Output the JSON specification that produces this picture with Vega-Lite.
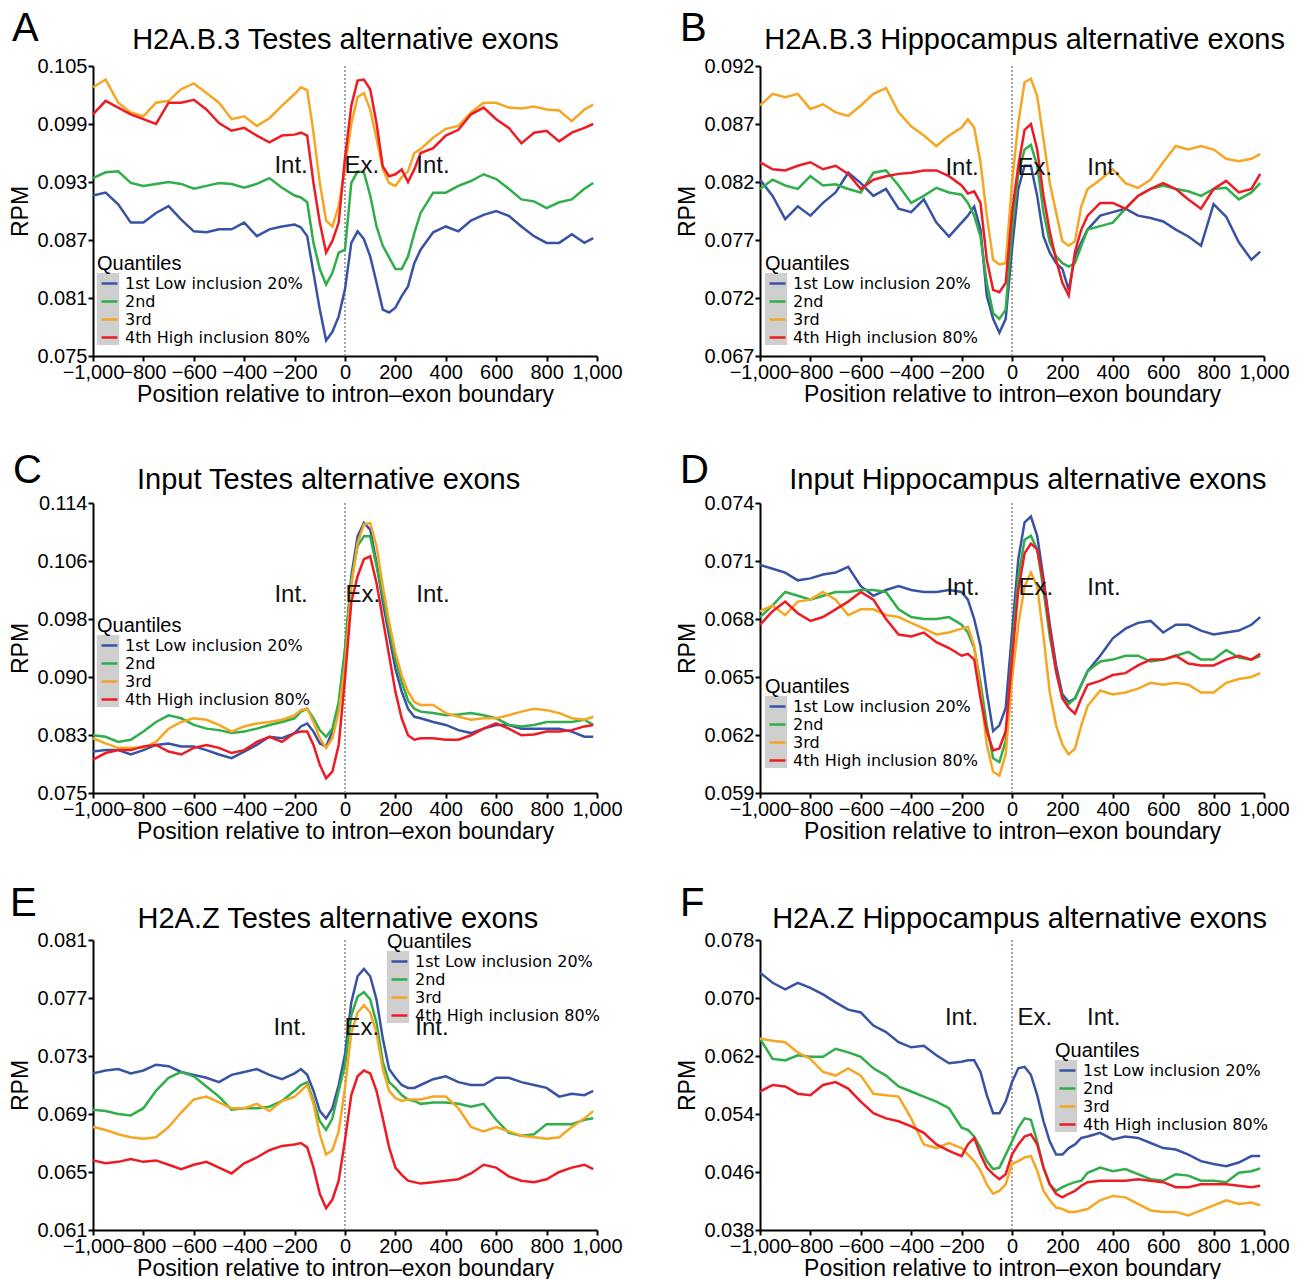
{
"$schema":"https://vega.github.io/schema/vega-lite/v6.json",
"padding":{"left":9,"top":8,"right":2,"bottom":0},
"config":{"font":"Liberation Sans","view":{"stroke":null},
"axis":{"domainColor":"#000","domainWidth":2,"tickColor":"#000","tickWidth":2,"tickSize":5,"labelColor":"#000","labelFontSize":20,"titleFontSize":23,"titleFontWeight":"normal","titleColor":"#000","grid":false,"labelPadding":1,"labelOverlap":false,"labelFlush":false},
"axisY":{"titlePadding":4},"axisX":{"titlePadding":1},
"legend":{"titleFontSize":20,"titleFontWeight":"normal","titleColor":"#000","labelFont":"DejaVu Sans","labelFontSize":16,"labelColor":"#000","labelLimit":400,"symbolType":"stroke","symbolStrokeWidth":2.5,"symbolSize":256,"symbolOffset":3,"rowPadding":0,"titlePadding":0,"labelOffset":6,"padding":0,"offset":0}},
"datasets":{
"G":[{"b":"a","x":-5000,"v":0},{"b":"b","x":-5000,"v":0},{"b":"c","x":-5000,"v":0},{"b":"d","x":-5000,"v":0}],
"A":[
{"x":-1000,"q":"1","v":0.0916},{"x":-950,"q":"1","v":0.0919},{"x":-900,"q":"1","v":0.0907},{"x":-850,"q":"1","v":0.0888},{"x":-800,"q":"1","v":0.0888},{"x":-750,"q":"1","v":0.0898},{"x":-700,"q":"1","v":0.0905},{"x":-650,"q":"1","v":0.0891},{"x":-600,"q":"1","v":0.0879},{"x":-550,"q":"1","v":0.0878},{"x":-500,"q":"1","v":0.0881},{"x":-450,"q":"1","v":0.0881},{"x":-400,"q":"1","v":0.0888},{"x":-350,"q":"1","v":0.0874},{"x":-300,"q":"1","v":0.0881},{"x":-250,"q":"1","v":0.0884},{"x":-200,"q":"1","v":0.0886},{"x":-175,"q":"1","v":0.0883},{"x":-150,"q":"1","v":0.0874},{"x":-125,"q":"1","v":0.0836},{"x":-100,"q":"1","v":0.0798},{"x":-75,"q":"1","v":0.0766},{"x":-50,"q":"1","v":0.0775},{"x":-25,"q":"1","v":0.0791},{"x":0,"q":"1","v":0.0819},{"x":25,"q":"1","v":0.0867},{"x":50,"q":"1","v":0.0879},{"x":75,"q":"1","v":0.0871},{"x":100,"q":"1","v":0.0853},{"x":125,"q":"1","v":0.0826},{"x":150,"q":"1","v":0.0798},{"x":175,"q":"1","v":0.0795},{"x":200,"q":"1","v":0.0800},{"x":225,"q":"1","v":0.0812},{"x":250,"q":"1","v":0.0822},{"x":275,"q":"1","v":0.0846},{"x":300,"q":"1","v":0.0860},{"x":350,"q":"1","v":0.0878},{"x":400,"q":"1","v":0.0884},{"x":450,"q":"1","v":0.0879},{"x":500,"q":"1","v":0.0890},{"x":550,"q":"1","v":0.0896},{"x":600,"q":"1","v":0.0900},{"x":650,"q":"1","v":0.0895},{"x":700,"q":"1","v":0.0884},{"x":750,"q":"1","v":0.0874},{"x":800,"q":"1","v":0.0867},{"x":850,"q":"1","v":0.0867},{"x":900,"q":"1","v":0.0876},{"x":950,"q":"1","v":0.0867},{"x":985,"q":"1","v":0.0872},
{"x":-1000,"q":"2","v":0.0934},{"x":-950,"q":"2","v":0.0940},{"x":-900,"q":"2","v":0.0941},{"x":-850,"q":"2","v":0.0929},{"x":-800,"q":"2","v":0.0926},{"x":-750,"q":"2","v":0.0928},{"x":-700,"q":"2","v":0.0930},{"x":-650,"q":"2","v":0.0928},{"x":-600,"q":"2","v":0.0923},{"x":-550,"q":"2","v":0.0926},{"x":-500,"q":"2","v":0.0929},{"x":-450,"q":"2","v":0.0928},{"x":-400,"q":"2","v":0.0924},{"x":-350,"q":"2","v":0.0928},{"x":-300,"q":"2","v":0.0934},{"x":-250,"q":"2","v":0.0924},{"x":-200,"q":"2","v":0.0916},{"x":-175,"q":"2","v":0.0914},{"x":-150,"q":"2","v":0.0909},{"x":-125,"q":"2","v":0.0867},{"x":-100,"q":"2","v":0.0840},{"x":-75,"q":"2","v":0.0824},{"x":-50,"q":"2","v":0.0836},{"x":-25,"q":"2","v":0.0857},{"x":0,"q":"2","v":0.0860},{"x":25,"q":"2","v":0.0929},{"x":50,"q":"2","v":0.0941},{"x":75,"q":"2","v":0.0940},{"x":100,"q":"2","v":0.0916},{"x":125,"q":"2","v":0.0884},{"x":150,"q":"2","v":0.0864},{"x":175,"q":"2","v":0.0852},{"x":200,"q":"2","v":0.0840},{"x":225,"q":"2","v":0.0840},{"x":250,"q":"2","v":0.0853},{"x":275,"q":"2","v":0.0877},{"x":300,"q":"2","v":0.0898},{"x":350,"q":"2","v":0.0919},{"x":400,"q":"2","v":0.0919},{"x":450,"q":"2","v":0.0926},{"x":500,"q":"2","v":0.0931},{"x":550,"q":"2","v":0.0938},{"x":600,"q":"2","v":0.0933},{"x":650,"q":"2","v":0.0923},{"x":700,"q":"2","v":0.0912},{"x":750,"q":"2","v":0.0910},{"x":800,"q":"2","v":0.0903},{"x":850,"q":"2","v":0.0909},{"x":900,"q":"2","v":0.0912},{"x":950,"q":"2","v":0.0923},{"x":985,"q":"2","v":0.0929},
{"x":-1000,"q":"3","v":0.1028},{"x":-950,"q":"3","v":0.1036},{"x":-900,"q":"3","v":0.1012},{"x":-850,"q":"3","v":0.1002},{"x":-800,"q":"3","v":0.0998},{"x":-750,"q":"3","v":0.1012},{"x":-700,"q":"3","v":0.1014},{"x":-650,"q":"3","v":0.1026},{"x":-600,"q":"3","v":0.1032},{"x":-550,"q":"3","v":0.1022},{"x":-500,"q":"3","v":0.1012},{"x":-450,"q":"3","v":0.0995},{"x":-400,"q":"3","v":0.0998},{"x":-350,"q":"3","v":0.0988},{"x":-300,"q":"3","v":0.0996},{"x":-250,"q":"3","v":0.1009},{"x":-200,"q":"3","v":0.1021},{"x":-175,"q":"3","v":0.1028},{"x":-150,"q":"3","v":0.1025},{"x":-125,"q":"3","v":0.0981},{"x":-100,"q":"3","v":0.0929},{"x":-75,"q":"3","v":0.0890},{"x":-50,"q":"3","v":0.0884},{"x":-25,"q":"3","v":0.0905},{"x":0,"q":"3","v":0.0945},{"x":25,"q":"3","v":0.0990},{"x":50,"q":"3","v":0.1018},{"x":75,"q":"3","v":0.1022},{"x":100,"q":"3","v":0.1005},{"x":125,"q":"3","v":0.0975},{"x":150,"q":"3","v":0.0943},{"x":175,"q":"3","v":0.0929},{"x":200,"q":"3","v":0.0926},{"x":225,"q":"3","v":0.0935},{"x":250,"q":"3","v":0.0941},{"x":275,"q":"3","v":0.0960},{"x":300,"q":"3","v":0.0964},{"x":350,"q":"3","v":0.0976},{"x":400,"q":"3","v":0.0985},{"x":450,"q":"3","v":0.0988},{"x":500,"q":"3","v":0.1002},{"x":550,"q":"3","v":0.1012},{"x":600,"q":"3","v":0.1012},{"x":650,"q":"3","v":0.1007},{"x":700,"q":"3","v":0.1006},{"x":750,"q":"3","v":0.1008},{"x":800,"q":"3","v":0.1005},{"x":850,"q":"3","v":0.1004},{"x":900,"q":"3","v":0.0993},{"x":950,"q":"3","v":0.1005},{"x":985,"q":"3","v":0.1010},
{"x":-1000,"q":"4","v":0.1000},{"x":-950,"q":"4","v":0.1014},{"x":-900,"q":"4","v":0.1007},{"x":-850,"q":"4","v":0.1000},{"x":-800,"q":"4","v":0.0995},{"x":-750,"q":"4","v":0.0990},{"x":-700,"q":"4","v":0.1012},{"x":-650,"q":"4","v":0.1012},{"x":-600,"q":"4","v":0.1015},{"x":-550,"q":"4","v":0.1005},{"x":-500,"q":"4","v":0.0991},{"x":-450,"q":"4","v":0.0983},{"x":-400,"q":"4","v":0.0986},{"x":-350,"q":"4","v":0.0978},{"x":-300,"q":"4","v":0.0971},{"x":-250,"q":"4","v":0.0978},{"x":-200,"q":"4","v":0.0979},{"x":-175,"q":"4","v":0.0981},{"x":-150,"q":"4","v":0.0978},{"x":-125,"q":"4","v":0.0929},{"x":-100,"q":"4","v":0.0888},{"x":-75,"q":"4","v":0.0857},{"x":-50,"q":"4","v":0.0869},{"x":-25,"q":"4","v":0.0888},{"x":0,"q":"4","v":0.0955},{"x":25,"q":"4","v":0.1009},{"x":50,"q":"4","v":0.1035},{"x":75,"q":"4","v":0.1036},{"x":100,"q":"4","v":0.1026},{"x":125,"q":"4","v":0.0991},{"x":150,"q":"4","v":0.0946},{"x":175,"q":"4","v":0.0936},{"x":200,"q":"4","v":0.0938},{"x":225,"q":"4","v":0.0943},{"x":250,"q":"4","v":0.0930},{"x":275,"q":"4","v":0.0943},{"x":300,"q":"4","v":0.0960},{"x":350,"q":"4","v":0.0965},{"x":400,"q":"4","v":0.0978},{"x":450,"q":"4","v":0.0984},{"x":500,"q":"4","v":0.1000},{"x":550,"q":"4","v":0.1007},{"x":600,"q":"4","v":0.0995},{"x":650,"q":"4","v":0.0986},{"x":700,"q":"4","v":0.0970},{"x":750,"q":"4","v":0.0981},{"x":800,"q":"4","v":0.0983},{"x":850,"q":"4","v":0.0972},{"x":900,"q":"4","v":0.0981},{"x":950,"q":"4","v":0.0986},{"x":985,"q":"4","v":0.0990}
],
"B":[
{"x":-1000,"q":"1","v":0.0822},{"x":-950,"q":"1","v":0.0808},{"x":-900,"q":"1","v":0.0788},{"x":-850,"q":"1","v":0.0799},{"x":-800,"q":"1","v":0.0791},{"x":-750,"q":"1","v":0.0802},{"x":-700,"q":"1","v":0.0811},{"x":-650,"q":"1","v":0.0828},{"x":-600,"q":"1","v":0.0819},{"x":-550,"q":"1","v":0.0808},{"x":-500,"q":"1","v":0.0814},{"x":-450,"q":"1","v":0.0797},{"x":-400,"q":"1","v":0.0794},{"x":-350,"q":"1","v":0.0805},{"x":-300,"q":"1","v":0.0785},{"x":-250,"q":"1","v":0.0773},{"x":-200,"q":"1","v":0.0785},{"x":-175,"q":"1","v":0.0791},{"x":-150,"q":"1","v":0.0799},{"x":-125,"q":"1","v":0.0779},{"x":-100,"q":"1","v":0.0722},{"x":-75,"q":"1","v":0.0702},{"x":-50,"q":"1","v":0.0690},{"x":-25,"q":"1","v":0.0702},{"x":0,"q":"1","v":0.0762},{"x":25,"q":"1","v":0.0814},{"x":50,"q":"1","v":0.0834},{"x":75,"q":"1","v":0.0834},{"x":100,"q":"1","v":0.0808},{"x":125,"q":"1","v":0.0773},{"x":150,"q":"1","v":0.0759},{"x":175,"q":"1","v":0.0750},{"x":200,"q":"1","v":0.0745},{"x":225,"q":"1","v":0.0727},{"x":250,"q":"1","v":0.0756},{"x":275,"q":"1","v":0.0768},{"x":300,"q":"1","v":0.0779},{"x":350,"q":"1","v":0.0791},{"x":400,"q":"1","v":0.0794},{"x":450,"q":"1","v":0.0797},{"x":500,"q":"1","v":0.0791},{"x":550,"q":"1","v":0.0789},{"x":600,"q":"1","v":0.0786},{"x":650,"q":"1","v":0.0779},{"x":700,"q":"1","v":0.0773},{"x":750,"q":"1","v":0.0765},{"x":800,"q":"1","v":0.0801},{"x":850,"q":"1","v":0.0790},{"x":900,"q":"1","v":0.0768},{"x":950,"q":"1","v":0.0753},{"x":985,"q":"1","v":0.0760},
{"x":-1000,"q":"2","v":0.0814},{"x":-950,"q":"2","v":0.0822},{"x":-900,"q":"2","v":0.0817},{"x":-850,"q":"2","v":0.0814},{"x":-800,"q":"2","v":0.0825},{"x":-750,"q":"2","v":0.0817},{"x":-700,"q":"2","v":0.0818},{"x":-650,"q":"2","v":0.0814},{"x":-600,"q":"2","v":0.0811},{"x":-550,"q":"2","v":0.0828},{"x":-500,"q":"2","v":0.0830},{"x":-450,"q":"2","v":0.0817},{"x":-400,"q":"2","v":0.0802},{"x":-350,"q":"2","v":0.0808},{"x":-300,"q":"2","v":0.0815},{"x":-250,"q":"2","v":0.0811},{"x":-200,"q":"2","v":0.0809},{"x":-175,"q":"2","v":0.0802},{"x":-150,"q":"2","v":0.0791},{"x":-125,"q":"2","v":0.0773},{"x":-100,"q":"2","v":0.0733},{"x":-75,"q":"2","v":0.0707},{"x":-50,"q":"2","v":0.0702},{"x":-25,"q":"2","v":0.0710},{"x":0,"q":"2","v":0.0779},{"x":25,"q":"2","v":0.0828},{"x":50,"q":"2","v":0.0848},{"x":75,"q":"2","v":0.0852},{"x":100,"q":"2","v":0.0834},{"x":125,"q":"2","v":0.0794},{"x":150,"q":"2","v":0.0768},{"x":175,"q":"2","v":0.0756},{"x":200,"q":"2","v":0.0750},{"x":225,"q":"2","v":0.0747},{"x":250,"q":"2","v":0.0750},{"x":275,"q":"2","v":0.0765},{"x":300,"q":"2","v":0.0779},{"x":350,"q":"2","v":0.0782},{"x":400,"q":"2","v":0.0785},{"x":450,"q":"2","v":0.0797},{"x":500,"q":"2","v":0.0808},{"x":550,"q":"2","v":0.0814},{"x":600,"q":"2","v":0.0817},{"x":650,"q":"2","v":0.0814},{"x":700,"q":"2","v":0.0812},{"x":750,"q":"2","v":0.0808},{"x":800,"q":"2","v":0.0814},{"x":850,"q":"2","v":0.0815},{"x":900,"q":"2","v":0.0805},{"x":950,"q":"2","v":0.0811},{"x":985,"q":"2","v":0.0819},
{"x":-1000,"q":"3","v":0.0886},{"x":-950,"q":"3","v":0.0896},{"x":-900,"q":"3","v":0.0893},{"x":-850,"q":"3","v":0.0896},{"x":-800,"q":"3","v":0.0883},{"x":-750,"q":"3","v":0.0887},{"x":-700,"q":"3","v":0.0880},{"x":-650,"q":"3","v":0.0877},{"x":-600,"q":"3","v":0.0886},{"x":-550,"q":"3","v":0.0896},{"x":-500,"q":"3","v":0.0901},{"x":-450,"q":"3","v":0.0880},{"x":-400,"q":"3","v":0.0868},{"x":-350,"q":"3","v":0.0860},{"x":-300,"q":"3","v":0.0851},{"x":-250,"q":"3","v":0.0860},{"x":-200,"q":"3","v":0.0867},{"x":-175,"q":"3","v":0.0874},{"x":-150,"q":"3","v":0.0867},{"x":-125,"q":"3","v":0.0837},{"x":-100,"q":"3","v":0.0791},{"x":-75,"q":"3","v":0.0753},{"x":-50,"q":"3","v":0.0749},{"x":-25,"q":"3","v":0.0750},{"x":0,"q":"3","v":0.0819},{"x":25,"q":"3","v":0.0871},{"x":50,"q":"3","v":0.0906},{"x":75,"q":"3","v":0.0909},{"x":100,"q":"3","v":0.0894},{"x":125,"q":"3","v":0.0857},{"x":150,"q":"3","v":0.0819},{"x":175,"q":"3","v":0.0794},{"x":200,"q":"3","v":0.0769},{"x":225,"q":"3","v":0.0765},{"x":250,"q":"3","v":0.0769},{"x":275,"q":"3","v":0.0799},{"x":300,"q":"3","v":0.0814},{"x":350,"q":"3","v":0.0822},{"x":400,"q":"3","v":0.0831},{"x":450,"q":"3","v":0.0819},{"x":500,"q":"3","v":0.0815},{"x":550,"q":"3","v":0.0822},{"x":600,"q":"3","v":0.0837},{"x":650,"q":"3","v":0.0851},{"x":700,"q":"3","v":0.0848},{"x":750,"q":"3","v":0.0851},{"x":800,"q":"3","v":0.0848},{"x":850,"q":"3","v":0.0840},{"x":900,"q":"3","v":0.0838},{"x":950,"q":"3","v":0.0840},{"x":985,"q":"3","v":0.0844},
{"x":-1000,"q":"4","v":0.0837},{"x":-950,"q":"4","v":0.0831},{"x":-900,"q":"4","v":0.0830},{"x":-850,"q":"4","v":0.0834},{"x":-800,"q":"4","v":0.0837},{"x":-750,"q":"4","v":0.0831},{"x":-700,"q":"4","v":0.0834},{"x":-650,"q":"4","v":0.0827},{"x":-600,"q":"4","v":0.0814},{"x":-550,"q":"4","v":0.0822},{"x":-500,"q":"4","v":0.0825},{"x":-450,"q":"4","v":0.0827},{"x":-400,"q":"4","v":0.0828},{"x":-350,"q":"4","v":0.0830},{"x":-300,"q":"4","v":0.0830},{"x":-250,"q":"4","v":0.0825},{"x":-200,"q":"4","v":0.0817},{"x":-175,"q":"4","v":0.0810},{"x":-150,"q":"4","v":0.0812},{"x":-125,"q":"4","v":0.0802},{"x":-100,"q":"4","v":0.0753},{"x":-75,"q":"4","v":0.0727},{"x":-50,"q":"4","v":0.0725},{"x":-25,"q":"4","v":0.0733},{"x":0,"q":"4","v":0.0794},{"x":25,"q":"4","v":0.0834},{"x":50,"q":"4","v":0.0865},{"x":75,"q":"4","v":0.0870},{"x":100,"q":"4","v":0.0848},{"x":125,"q":"4","v":0.0808},{"x":150,"q":"4","v":0.0777},{"x":175,"q":"4","v":0.0753},{"x":200,"q":"4","v":0.0733},{"x":225,"q":"4","v":0.0722},{"x":250,"q":"4","v":0.0760},{"x":275,"q":"4","v":0.0779},{"x":300,"q":"4","v":0.0791},{"x":350,"q":"4","v":0.0802},{"x":400,"q":"4","v":0.0802},{"x":450,"q":"4","v":0.0797},{"x":500,"q":"4","v":0.0808},{"x":550,"q":"4","v":0.0814},{"x":600,"q":"4","v":0.0819},{"x":650,"q":"4","v":0.0814},{"x":700,"q":"4","v":0.0805},{"x":750,"q":"4","v":0.0797},{"x":800,"q":"4","v":0.0814},{"x":850,"q":"4","v":0.0821},{"x":900,"q":"4","v":0.0811},{"x":950,"q":"4","v":0.0814},{"x":985,"q":"4","v":0.0827}
],
"C":[
{"x":-1000,"q":"1","v":0.0804},{"x":-950,"q":"1","v":0.0806},{"x":-900,"q":"1","v":0.0806},{"x":-850,"q":"1","v":0.0800},{"x":-800,"q":"1","v":0.0806},{"x":-750,"q":"1","v":0.0813},{"x":-700,"q":"1","v":0.0815},{"x":-650,"q":"1","v":0.0811},{"x":-600,"q":"1","v":0.0811},{"x":-550,"q":"1","v":0.0806},{"x":-500,"q":"1","v":0.0800},{"x":-450,"q":"1","v":0.0795},{"x":-400,"q":"1","v":0.0804},{"x":-350,"q":"1","v":0.0813},{"x":-300,"q":"1","v":0.0824},{"x":-250,"q":"1","v":0.0822},{"x":-200,"q":"1","v":0.0829},{"x":-175,"q":"1","v":0.0838},{"x":-150,"q":"1","v":0.0842},{"x":-125,"q":"1","v":0.0831},{"x":-100,"q":"1","v":0.0815},{"x":-75,"q":"1","v":0.0811},{"x":-50,"q":"1","v":0.0831},{"x":-25,"q":"1","v":0.0867},{"x":0,"q":"1","v":0.0938},{"x":25,"q":"1","v":0.1041},{"x":50,"q":"1","v":0.1095},{"x":75,"q":"1","v":0.1113},{"x":100,"q":"1","v":0.1104},{"x":125,"q":"1","v":0.1059},{"x":150,"q":"1","v":0.1006},{"x":175,"q":"1","v":0.0961},{"x":200,"q":"1","v":0.0916},{"x":225,"q":"1","v":0.0885},{"x":250,"q":"1","v":0.0862},{"x":275,"q":"1","v":0.0851},{"x":300,"q":"1","v":0.0849},{"x":350,"q":"1","v":0.0844},{"x":400,"q":"1","v":0.0840},{"x":450,"q":"1","v":0.0833},{"x":500,"q":"1","v":0.0829},{"x":550,"q":"1","v":0.0835},{"x":600,"q":"1","v":0.0840},{"x":650,"q":"1","v":0.0840},{"x":700,"q":"1","v":0.0835},{"x":750,"q":"1","v":0.0835},{"x":800,"q":"1","v":0.0835},{"x":850,"q":"1","v":0.0835},{"x":900,"q":"1","v":0.0831},{"x":950,"q":"1","v":0.0824},{"x":985,"q":"1","v":0.0824},
{"x":-1000,"q":"2","v":0.0826},{"x":-950,"q":"2","v":0.0824},{"x":-900,"q":"2","v":0.0817},{"x":-850,"q":"2","v":0.0820},{"x":-800,"q":"2","v":0.0831},{"x":-750,"q":"2","v":0.0844},{"x":-700,"q":"2","v":0.0853},{"x":-650,"q":"2","v":0.0849},{"x":-600,"q":"2","v":0.0840},{"x":-550,"q":"2","v":0.0835},{"x":-500,"q":"2","v":0.0833},{"x":-450,"q":"2","v":0.0829},{"x":-400,"q":"2","v":0.0831},{"x":-350,"q":"2","v":0.0835},{"x":-300,"q":"2","v":0.0840},{"x":-250,"q":"2","v":0.0844},{"x":-200,"q":"2","v":0.0849},{"x":-175,"q":"2","v":0.0858},{"x":-150,"q":"2","v":0.0862},{"x":-125,"q":"2","v":0.0849},{"x":-100,"q":"2","v":0.0833},{"x":-75,"q":"2","v":0.0824},{"x":-50,"q":"2","v":0.0835},{"x":-25,"q":"2","v":0.0871},{"x":0,"q":"2","v":0.0943},{"x":25,"q":"2","v":0.1037},{"x":50,"q":"2","v":0.1082},{"x":75,"q":"2","v":0.1095},{"x":100,"q":"2","v":0.1095},{"x":125,"q":"2","v":0.1055},{"x":150,"q":"2","v":0.1015},{"x":175,"q":"2","v":0.0970},{"x":200,"q":"2","v":0.0929},{"x":225,"q":"2","v":0.0898},{"x":250,"q":"2","v":0.0873},{"x":275,"q":"2","v":0.0862},{"x":300,"q":"2","v":0.0858},{"x":350,"q":"2","v":0.0856},{"x":400,"q":"2","v":0.0853},{"x":450,"q":"2","v":0.0854},{"x":500,"q":"2","v":0.0856},{"x":550,"q":"2","v":0.0853},{"x":600,"q":"2","v":0.0849},{"x":650,"q":"2","v":0.0840},{"x":700,"q":"2","v":0.0838},{"x":750,"q":"2","v":0.0840},{"x":800,"q":"2","v":0.0844},{"x":850,"q":"2","v":0.0844},{"x":900,"q":"2","v":0.0844},{"x":950,"q":"2","v":0.0847},{"x":985,"q":"2","v":0.0840},
{"x":-1000,"q":"3","v":0.0822},{"x":-950,"q":"3","v":0.0815},{"x":-900,"q":"3","v":0.0809},{"x":-850,"q":"3","v":0.0809},{"x":-800,"q":"3","v":0.0809},{"x":-750,"q":"3","v":0.0817},{"x":-700,"q":"3","v":0.0835},{"x":-650,"q":"3","v":0.0844},{"x":-600,"q":"3","v":0.0849},{"x":-550,"q":"3","v":0.0847},{"x":-500,"q":"3","v":0.0840},{"x":-450,"q":"3","v":0.0831},{"x":-400,"q":"3","v":0.0838},{"x":-350,"q":"3","v":0.0842},{"x":-300,"q":"3","v":0.0844},{"x":-250,"q":"3","v":0.0847},{"x":-200,"q":"3","v":0.0853},{"x":-175,"q":"3","v":0.0860},{"x":-150,"q":"3","v":0.0862},{"x":-125,"q":"3","v":0.0844},{"x":-100,"q":"3","v":0.0822},{"x":-75,"q":"3","v":0.0809},{"x":-50,"q":"3","v":0.0822},{"x":-25,"q":"3","v":0.0858},{"x":0,"q":"3","v":0.0920},{"x":25,"q":"3","v":0.1028},{"x":50,"q":"3","v":0.1086},{"x":75,"q":"3","v":0.1111},{"x":100,"q":"3","v":0.1113},{"x":125,"q":"3","v":0.1082},{"x":150,"q":"3","v":0.1028},{"x":175,"q":"3","v":0.0979},{"x":200,"q":"3","v":0.0938},{"x":225,"q":"3","v":0.0907},{"x":250,"q":"3","v":0.0885},{"x":275,"q":"3","v":0.0871},{"x":300,"q":"3","v":0.0867},{"x":350,"q":"3","v":0.0867},{"x":400,"q":"3","v":0.0856},{"x":450,"q":"3","v":0.0851},{"x":500,"q":"3","v":0.0847},{"x":550,"q":"3","v":0.0849},{"x":600,"q":"3","v":0.0849},{"x":650,"q":"3","v":0.0853},{"x":700,"q":"3","v":0.0858},{"x":750,"q":"3","v":0.0862},{"x":800,"q":"3","v":0.0860},{"x":850,"q":"3","v":0.0856},{"x":900,"q":"3","v":0.0849},{"x":950,"q":"3","v":0.0847},{"x":985,"q":"3","v":0.0851},
{"x":-1000,"q":"4","v":0.0793},{"x":-950,"q":"4","v":0.0802},{"x":-900,"q":"4","v":0.0806},{"x":-850,"q":"4","v":0.0806},{"x":-800,"q":"4","v":0.0811},{"x":-750,"q":"4","v":0.0813},{"x":-700,"q":"4","v":0.0804},{"x":-650,"q":"4","v":0.0800},{"x":-600,"q":"4","v":0.0809},{"x":-550,"q":"4","v":0.0813},{"x":-500,"q":"4","v":0.0809},{"x":-450,"q":"4","v":0.0802},{"x":-400,"q":"4","v":0.0806},{"x":-350,"q":"4","v":0.0817},{"x":-300,"q":"4","v":0.0824},{"x":-250,"q":"4","v":0.0817},{"x":-200,"q":"4","v":0.0829},{"x":-175,"q":"4","v":0.0831},{"x":-150,"q":"4","v":0.0831},{"x":-125,"q":"4","v":0.0813},{"x":-100,"q":"4","v":0.0786},{"x":-75,"q":"4","v":0.0768},{"x":-50,"q":"4","v":0.0777},{"x":-25,"q":"4","v":0.0813},{"x":0,"q":"4","v":0.0903},{"x":25,"q":"4","v":0.1006},{"x":50,"q":"4","v":0.1041},{"x":75,"q":"4","v":0.1064},{"x":100,"q":"4","v":0.1068},{"x":125,"q":"4","v":0.1032},{"x":150,"q":"4","v":0.0983},{"x":175,"q":"4","v":0.0934},{"x":200,"q":"4","v":0.0885},{"x":225,"q":"4","v":0.0849},{"x":250,"q":"4","v":0.0826},{"x":275,"q":"4","v":0.0820},{"x":300,"q":"4","v":0.0822},{"x":350,"q":"4","v":0.0822},{"x":400,"q":"4","v":0.0820},{"x":450,"q":"4","v":0.0820},{"x":500,"q":"4","v":0.0826},{"x":550,"q":"4","v":0.0835},{"x":600,"q":"4","v":0.0842},{"x":650,"q":"4","v":0.0835},{"x":700,"q":"4","v":0.0826},{"x":750,"q":"4","v":0.0827},{"x":800,"q":"4","v":0.0831},{"x":850,"q":"4","v":0.0831},{"x":900,"q":"4","v":0.0833},{"x":950,"q":"4","v":0.0838},{"x":985,"q":"4","v":0.0840}
],
"D":[
{"x":-1000,"q":"1","v":0.0708},{"x":-950,"q":"1","v":0.0706},{"x":-900,"q":"1","v":0.0704},{"x":-850,"q":"1","v":0.0700},{"x":-800,"q":"1","v":0.0701},{"x":-750,"q":"1","v":0.0703},{"x":-700,"q":"1","v":0.0704},{"x":-650,"q":"1","v":0.0707},{"x":-600,"q":"1","v":0.0697},{"x":-550,"q":"1","v":0.0692},{"x":-500,"q":"1","v":0.0695},{"x":-450,"q":"1","v":0.0697},{"x":-400,"q":"1","v":0.0695},{"x":-350,"q":"1","v":0.0694},{"x":-300,"q":"1","v":0.0694},{"x":-250,"q":"1","v":0.0695},{"x":-200,"q":"1","v":0.0694},{"x":-175,"q":"1","v":0.0690},{"x":-150,"q":"1","v":0.0680},{"x":-125,"q":"1","v":0.0666},{"x":-100,"q":"1","v":0.0642},{"x":-75,"q":"1","v":0.0622},{"x":-50,"q":"1","v":0.0625},{"x":-25,"q":"1","v":0.0634},{"x":0,"q":"1","v":0.0673},{"x":25,"q":"1","v":0.0711},{"x":50,"q":"1","v":0.0730},{"x":75,"q":"1","v":0.0733},{"x":100,"q":"1","v":0.0723},{"x":125,"q":"1","v":0.0701},{"x":150,"q":"1","v":0.0677},{"x":175,"q":"1","v":0.0656},{"x":200,"q":"1","v":0.0641},{"x":225,"q":"1","v":0.0637},{"x":250,"q":"1","v":0.0639},{"x":275,"q":"1","v":0.0646},{"x":300,"q":"1","v":0.0653},{"x":350,"q":"1","v":0.0661},{"x":400,"q":"1","v":0.0670},{"x":450,"q":"1","v":0.0675},{"x":500,"q":"1","v":0.0678},{"x":550,"q":"1","v":0.0679},{"x":600,"q":"1","v":0.0673},{"x":650,"q":"1","v":0.0677},{"x":700,"q":"1","v":0.0677},{"x":750,"q":"1","v":0.0674},{"x":800,"q":"1","v":0.0672},{"x":850,"q":"1","v":0.0673},{"x":900,"q":"1","v":0.0674},{"x":950,"q":"1","v":0.0677},{"x":985,"q":"1","v":0.0681},
{"x":-1000,"q":"2","v":0.0681},{"x":-950,"q":"2","v":0.0687},{"x":-900,"q":"2","v":0.0694},{"x":-850,"q":"2","v":0.0692},{"x":-800,"q":"2","v":0.0690},{"x":-750,"q":"2","v":0.0692},{"x":-700,"q":"2","v":0.0694},{"x":-650,"q":"2","v":0.0694},{"x":-600,"q":"2","v":0.0695},{"x":-550,"q":"2","v":0.0695},{"x":-500,"q":"2","v":0.0694},{"x":-450,"q":"2","v":0.0685},{"x":-400,"q":"2","v":0.0681},{"x":-350,"q":"2","v":0.0680},{"x":-300,"q":"2","v":0.0680},{"x":-250,"q":"2","v":0.0681},{"x":-200,"q":"2","v":0.0677},{"x":-175,"q":"2","v":0.0673},{"x":-150,"q":"2","v":0.0665},{"x":-125,"q":"2","v":0.0647},{"x":-100,"q":"2","v":0.0625},{"x":-75,"q":"2","v":0.0608},{"x":-50,"q":"2","v":0.0606},{"x":-25,"q":"2","v":0.0617},{"x":0,"q":"2","v":0.0663},{"x":25,"q":"2","v":0.0702},{"x":50,"q":"2","v":0.0721},{"x":75,"q":"2","v":0.0723},{"x":100,"q":"2","v":0.0716},{"x":125,"q":"2","v":0.0695},{"x":150,"q":"2","v":0.0671},{"x":175,"q":"2","v":0.0653},{"x":200,"q":"2","v":0.0639},{"x":225,"q":"2","v":0.0636},{"x":250,"q":"2","v":0.0639},{"x":275,"q":"2","v":0.0646},{"x":300,"q":"2","v":0.0653},{"x":350,"q":"2","v":0.0658},{"x":400,"q":"2","v":0.0659},{"x":450,"q":"2","v":0.0661},{"x":500,"q":"2","v":0.0661},{"x":550,"q":"2","v":0.0658},{"x":600,"q":"2","v":0.0659},{"x":650,"q":"2","v":0.0661},{"x":700,"q":"2","v":0.0663},{"x":750,"q":"2","v":0.0659},{"x":800,"q":"2","v":0.0659},{"x":850,"q":"2","v":0.0664},{"x":900,"q":"2","v":0.0660},{"x":950,"q":"2","v":0.0659},{"x":985,"q":"2","v":0.0661},
{"x":-1000,"q":"3","v":0.0684},{"x":-950,"q":"3","v":0.0687},{"x":-900,"q":"3","v":0.0682},{"x":-850,"q":"3","v":0.0689},{"x":-800,"q":"3","v":0.0690},{"x":-750,"q":"3","v":0.0694},{"x":-700,"q":"3","v":0.0690},{"x":-650,"q":"3","v":0.0682},{"x":-600,"q":"3","v":0.0685},{"x":-550,"q":"3","v":0.0685},{"x":-500,"q":"3","v":0.0682},{"x":-450,"q":"3","v":0.0681},{"x":-400,"q":"3","v":0.0678},{"x":-350,"q":"3","v":0.0675},{"x":-300,"q":"3","v":0.0672},{"x":-250,"q":"3","v":0.0673},{"x":-200,"q":"3","v":0.0675},{"x":-175,"q":"3","v":0.0676},{"x":-150,"q":"3","v":0.0666},{"x":-125,"q":"3","v":0.0642},{"x":-100,"q":"3","v":0.0615},{"x":-75,"q":"3","v":0.0601},{"x":-50,"q":"3","v":0.0599},{"x":-25,"q":"3","v":0.0610},{"x":0,"q":"3","v":0.0649},{"x":25,"q":"3","v":0.0677},{"x":50,"q":"3","v":0.0697},{"x":75,"q":"3","v":0.0704},{"x":100,"q":"3","v":0.0697},{"x":125,"q":"3","v":0.0671},{"x":150,"q":"3","v":0.0642},{"x":175,"q":"3","v":0.0625},{"x":200,"q":"3","v":0.0615},{"x":225,"q":"3","v":0.0610},{"x":250,"q":"3","v":0.0613},{"x":275,"q":"3","v":0.0625},{"x":300,"q":"3","v":0.0635},{"x":350,"q":"3","v":0.0643},{"x":400,"q":"3","v":0.0641},{"x":450,"q":"3","v":0.0642},{"x":500,"q":"3","v":0.0644},{"x":550,"q":"3","v":0.0647},{"x":600,"q":"3","v":0.0646},{"x":650,"q":"3","v":0.0647},{"x":700,"q":"3","v":0.0646},{"x":750,"q":"3","v":0.0642},{"x":800,"q":"3","v":0.0642},{"x":850,"q":"3","v":0.0647},{"x":900,"q":"3","v":0.0649},{"x":950,"q":"3","v":0.0650},{"x":985,"q":"3","v":0.0652},
{"x":-1000,"q":"4","v":0.0677},{"x":-950,"q":"4","v":0.0684},{"x":-900,"q":"4","v":0.0689},{"x":-850,"q":"4","v":0.0683},{"x":-800,"q":"4","v":0.0679},{"x":-750,"q":"4","v":0.0681},{"x":-700,"q":"4","v":0.0685},{"x":-650,"q":"4","v":0.0689},{"x":-600,"q":"4","v":0.0694},{"x":-550,"q":"4","v":0.0690},{"x":-500,"q":"4","v":0.0680},{"x":-450,"q":"4","v":0.0672},{"x":-400,"q":"4","v":0.0671},{"x":-350,"q":"4","v":0.0673},{"x":-300,"q":"4","v":0.0668},{"x":-250,"q":"4","v":0.0665},{"x":-200,"q":"4","v":0.0661},{"x":-175,"q":"4","v":0.0662},{"x":-150,"q":"4","v":0.0659},{"x":-125,"q":"4","v":0.0639},{"x":-100,"q":"4","v":0.0622},{"x":-75,"q":"4","v":0.0612},{"x":-50,"q":"4","v":0.0613},{"x":-25,"q":"4","v":0.0622},{"x":0,"q":"4","v":0.0659},{"x":25,"q":"4","v":0.0695},{"x":50,"q":"4","v":0.0714},{"x":75,"q":"4","v":0.0719},{"x":100,"q":"4","v":0.0716},{"x":125,"q":"4","v":0.0699},{"x":150,"q":"4","v":0.0675},{"x":175,"q":"4","v":0.0653},{"x":200,"q":"4","v":0.0639},{"x":225,"q":"4","v":0.0634},{"x":250,"q":"4","v":0.0631},{"x":275,"q":"4","v":0.0639},{"x":300,"q":"4","v":0.0646},{"x":350,"q":"4","v":0.0648},{"x":400,"q":"4","v":0.0651},{"x":450,"q":"4","v":0.0652},{"x":500,"q":"4","v":0.0656},{"x":550,"q":"4","v":0.0659},{"x":600,"q":"4","v":0.0659},{"x":650,"q":"4","v":0.0661},{"x":700,"q":"4","v":0.0657},{"x":750,"q":"4","v":0.0656},{"x":800,"q":"4","v":0.0656},{"x":850,"q":"4","v":0.0659},{"x":900,"q":"4","v":0.0661},{"x":950,"q":"4","v":0.0659},{"x":985,"q":"4","v":0.0662}
],
"E":[
{"x":-1000,"q":"1","v":0.0718},{"x":-950,"q":"1","v":0.0720},{"x":-900,"q":"1","v":0.0721},{"x":-850,"q":"1","v":0.0718},{"x":-800,"q":"1","v":0.0720},{"x":-750,"q":"1","v":0.0724},{"x":-700,"q":"1","v":0.0723},{"x":-650,"q":"1","v":0.0719},{"x":-600,"q":"1","v":0.0717},{"x":-550,"q":"1","v":0.0715},{"x":-500,"q":"1","v":0.0712},{"x":-450,"q":"1","v":0.0717},{"x":-400,"q":"1","v":0.0719},{"x":-350,"q":"1","v":0.0721},{"x":-300,"q":"1","v":0.0717},{"x":-250,"q":"1","v":0.0714},{"x":-200,"q":"1","v":0.0718},{"x":-175,"q":"1","v":0.0721},{"x":-150,"q":"1","v":0.0717},{"x":-125,"q":"1","v":0.0706},{"x":-100,"q":"1","v":0.0692},{"x":-75,"q":"1","v":0.0687},{"x":-50,"q":"1","v":0.0694},{"x":-25,"q":"1","v":0.0710},{"x":0,"q":"1","v":0.0731},{"x":25,"q":"1","v":0.0767},{"x":50,"q":"1","v":0.0785},{"x":75,"q":"1","v":0.0790},{"x":100,"q":"1","v":0.0785},{"x":125,"q":"1","v":0.0769},{"x":150,"q":"1","v":0.0742},{"x":175,"q":"1","v":0.0721},{"x":200,"q":"1","v":0.0715},{"x":225,"q":"1","v":0.0710},{"x":250,"q":"1","v":0.0708},{"x":275,"q":"1","v":0.0708},{"x":300,"q":"1","v":0.0710},{"x":350,"q":"1","v":0.0714},{"x":400,"q":"1","v":0.0716},{"x":450,"q":"1","v":0.0712},{"x":500,"q":"1","v":0.0710},{"x":550,"q":"1","v":0.0710},{"x":600,"q":"1","v":0.0715},{"x":650,"q":"1","v":0.0715},{"x":700,"q":"1","v":0.0712},{"x":750,"q":"1","v":0.0710},{"x":800,"q":"1","v":0.0708},{"x":850,"q":"1","v":0.0702},{"x":900,"q":"1","v":0.0704},{"x":950,"q":"1","v":0.0703},{"x":985,"q":"1","v":0.0706},
{"x":-1000,"q":"2","v":0.0693},{"x":-950,"q":"2","v":0.0692},{"x":-900,"q":"2","v":0.0690},{"x":-850,"q":"2","v":0.0689},{"x":-800,"q":"2","v":0.0694},{"x":-750,"q":"2","v":0.0706},{"x":-700,"q":"2","v":0.0715},{"x":-650,"q":"2","v":0.0719},{"x":-600,"q":"2","v":0.0716},{"x":-550,"q":"2","v":0.0709},{"x":-500,"q":"2","v":0.0702},{"x":-450,"q":"2","v":0.0693},{"x":-400,"q":"2","v":0.0694},{"x":-350,"q":"2","v":0.0694},{"x":-300,"q":"2","v":0.0695},{"x":-250,"q":"2","v":0.0699},{"x":-200,"q":"2","v":0.0706},{"x":-175,"q":"2","v":0.0710},{"x":-150,"q":"2","v":0.0712},{"x":-125,"q":"2","v":0.0699},{"x":-100,"q":"2","v":0.0685},{"x":-75,"q":"2","v":0.0679},{"x":-50,"q":"2","v":0.0687},{"x":-25,"q":"2","v":0.0706},{"x":0,"q":"2","v":0.0724},{"x":25,"q":"2","v":0.0758},{"x":50,"q":"2","v":0.0771},{"x":75,"q":"2","v":0.0774},{"x":100,"q":"2","v":0.0769},{"x":125,"q":"2","v":0.0753},{"x":150,"q":"2","v":0.0726},{"x":175,"q":"2","v":0.0712},{"x":200,"q":"2","v":0.0708},{"x":225,"q":"2","v":0.0703},{"x":250,"q":"2","v":0.0700},{"x":275,"q":"2","v":0.0699},{"x":300,"q":"2","v":0.0697},{"x":350,"q":"2","v":0.0698},{"x":400,"q":"2","v":0.0698},{"x":450,"q":"2","v":0.0697},{"x":500,"q":"2","v":0.0695},{"x":550,"q":"2","v":0.0697},{"x":600,"q":"2","v":0.0686},{"x":650,"q":"2","v":0.0677},{"x":700,"q":"2","v":0.0675},{"x":750,"q":"2","v":0.0676},{"x":800,"q":"2","v":0.0683},{"x":850,"q":"2","v":0.0683},{"x":900,"q":"2","v":0.0683},{"x":950,"q":"2","v":0.0686},{"x":985,"q":"2","v":0.0687},
{"x":-1000,"q":"3","v":0.0681},{"x":-950,"q":"3","v":0.0679},{"x":-900,"q":"3","v":0.0676},{"x":-850,"q":"3","v":0.0674},{"x":-800,"q":"3","v":0.0673},{"x":-750,"q":"3","v":0.0674},{"x":-700,"q":"3","v":0.0681},{"x":-650,"q":"3","v":0.0691},{"x":-600,"q":"3","v":0.0700},{"x":-550,"q":"3","v":0.0702},{"x":-500,"q":"3","v":0.0698},{"x":-450,"q":"3","v":0.0694},{"x":-400,"q":"3","v":0.0694},{"x":-350,"q":"3","v":0.0697},{"x":-300,"q":"3","v":0.0692},{"x":-250,"q":"3","v":0.0699},{"x":-200,"q":"3","v":0.0702},{"x":-175,"q":"3","v":0.0706},{"x":-150,"q":"3","v":0.0710},{"x":-125,"q":"3","v":0.0697},{"x":-100,"q":"3","v":0.0676},{"x":-75,"q":"3","v":0.0662},{"x":-50,"q":"3","v":0.0665},{"x":-25,"q":"3","v":0.0678},{"x":0,"q":"3","v":0.0708},{"x":25,"q":"3","v":0.0746},{"x":50,"q":"3","v":0.0760},{"x":75,"q":"3","v":0.0765},{"x":100,"q":"3","v":0.0760},{"x":125,"q":"3","v":0.0746},{"x":150,"q":"3","v":0.0721},{"x":175,"q":"3","v":0.0706},{"x":200,"q":"3","v":0.0701},{"x":225,"q":"3","v":0.0699},{"x":250,"q":"3","v":0.0700},{"x":275,"q":"3","v":0.0700},{"x":300,"q":"3","v":0.0700},{"x":350,"q":"3","v":0.0702},{"x":400,"q":"3","v":0.0702},{"x":450,"q":"3","v":0.0694},{"x":500,"q":"3","v":0.0681},{"x":550,"q":"3","v":0.0678},{"x":600,"q":"3","v":0.0681},{"x":650,"q":"3","v":0.0678},{"x":700,"q":"3","v":0.0675},{"x":750,"q":"3","v":0.0674},{"x":800,"q":"3","v":0.0673},{"x":850,"q":"3","v":0.0674},{"x":900,"q":"3","v":0.0681},{"x":950,"q":"3","v":0.0687},{"x":985,"q":"3","v":0.0692},
{"x":-1000,"q":"4","v":0.0658},{"x":-950,"q":"4","v":0.0656},{"x":-900,"q":"4","v":0.0657},{"x":-850,"q":"4","v":0.0659},{"x":-800,"q":"4","v":0.0657},{"x":-750,"q":"4","v":0.0658},{"x":-700,"q":"4","v":0.0655},{"x":-650,"q":"4","v":0.0652},{"x":-600,"q":"4","v":0.0655},{"x":-550,"q":"4","v":0.0657},{"x":-500,"q":"4","v":0.0653},{"x":-450,"q":"4","v":0.0649},{"x":-400,"q":"4","v":0.0656},{"x":-350,"q":"4","v":0.0660},{"x":-300,"q":"4","v":0.0665},{"x":-250,"q":"4","v":0.0668},{"x":-200,"q":"4","v":0.0669},{"x":-175,"q":"4","v":0.0670},{"x":-150,"q":"4","v":0.0667},{"x":-125,"q":"4","v":0.0653},{"x":-100,"q":"4","v":0.0635},{"x":-75,"q":"4","v":0.0625},{"x":-50,"q":"4","v":0.0631},{"x":-25,"q":"4","v":0.0644},{"x":0,"q":"4","v":0.0672},{"x":25,"q":"4","v":0.0703},{"x":50,"q":"4","v":0.0716},{"x":75,"q":"4","v":0.0720},{"x":100,"q":"4","v":0.0718},{"x":125,"q":"4","v":0.0706},{"x":150,"q":"4","v":0.0687},{"x":175,"q":"4","v":0.0667},{"x":200,"q":"4","v":0.0653},{"x":225,"q":"4","v":0.0648},{"x":250,"q":"4","v":0.0644},{"x":275,"q":"4","v":0.0643},{"x":300,"q":"4","v":0.0642},{"x":350,"q":"4","v":0.0643},{"x":400,"q":"4","v":0.0644},{"x":450,"q":"4","v":0.0645},{"x":500,"q":"4","v":0.0649},{"x":550,"q":"4","v":0.0655},{"x":600,"q":"4","v":0.0653},{"x":650,"q":"4","v":0.0647},{"x":700,"q":"4","v":0.0644},{"x":750,"q":"4","v":0.0643},{"x":800,"q":"4","v":0.0645},{"x":850,"q":"4","v":0.0650},{"x":900,"q":"4","v":0.0653},{"x":950,"q":"4","v":0.0655},{"x":985,"q":"4","v":0.0652}
],
"F":[
{"x":-1000,"q":"1","v":0.0735},{"x":-950,"q":"1","v":0.0721},{"x":-900,"q":"1","v":0.0712},{"x":-850,"q":"1","v":0.0721},{"x":-800,"q":"1","v":0.0714},{"x":-750,"q":"1","v":0.0705},{"x":-700,"q":"1","v":0.0694},{"x":-650,"q":"1","v":0.0684},{"x":-600,"q":"1","v":0.0680},{"x":-550,"q":"1","v":0.0662},{"x":-500,"q":"1","v":0.0653},{"x":-450,"q":"1","v":0.0639},{"x":-400,"q":"1","v":0.0632},{"x":-350,"q":"1","v":0.0634},{"x":-300,"q":"1","v":0.0621},{"x":-250,"q":"1","v":0.0610},{"x":-200,"q":"1","v":0.0612},{"x":-175,"q":"1","v":0.0614},{"x":-150,"q":"1","v":0.0614},{"x":-125,"q":"1","v":0.0598},{"x":-100,"q":"1","v":0.0566},{"x":-75,"q":"1","v":0.0541},{"x":-50,"q":"1","v":0.0541},{"x":-25,"q":"1","v":0.0557},{"x":0,"q":"1","v":0.0584},{"x":25,"q":"1","v":0.0603},{"x":50,"q":"1","v":0.0605},{"x":75,"q":"1","v":0.0594},{"x":100,"q":"1","v":0.0566},{"x":125,"q":"1","v":0.0530},{"x":150,"q":"1","v":0.0502},{"x":175,"q":"1","v":0.0484},{"x":200,"q":"1","v":0.0484},{"x":225,"q":"1","v":0.0493},{"x":250,"q":"1","v":0.0498},{"x":275,"q":"1","v":0.0507},{"x":300,"q":"1","v":0.0509},{"x":350,"q":"1","v":0.0514},{"x":400,"q":"1","v":0.0505},{"x":450,"q":"1","v":0.0509},{"x":500,"q":"1","v":0.0507},{"x":550,"q":"1","v":0.0500},{"x":600,"q":"1","v":0.0493},{"x":650,"q":"1","v":0.0491},{"x":700,"q":"1","v":0.0484},{"x":750,"q":"1","v":0.0475},{"x":800,"q":"1","v":0.0471},{"x":850,"q":"1","v":0.0468},{"x":900,"q":"1","v":0.0473},{"x":950,"q":"1","v":0.0482},{"x":985,"q":"1","v":0.0482},
{"x":-1000,"q":"2","v":0.0644},{"x":-950,"q":"2","v":0.0616},{"x":-900,"q":"2","v":0.0614},{"x":-850,"q":"2","v":0.0621},{"x":-800,"q":"2","v":0.0619},{"x":-750,"q":"2","v":0.0619},{"x":-700,"q":"2","v":0.0630},{"x":-650,"q":"2","v":0.0625},{"x":-600,"q":"2","v":0.0619},{"x":-550,"q":"2","v":0.0603},{"x":-500,"q":"2","v":0.0593},{"x":-450,"q":"2","v":0.0578},{"x":-400,"q":"2","v":0.0571},{"x":-350,"q":"2","v":0.0564},{"x":-300,"q":"2","v":0.0557},{"x":-250,"q":"2","v":0.0548},{"x":-200,"q":"2","v":0.0521},{"x":-175,"q":"2","v":0.0518},{"x":-150,"q":"2","v":0.0509},{"x":-125,"q":"2","v":0.0493},{"x":-100,"q":"2","v":0.0475},{"x":-75,"q":"2","v":0.0464},{"x":-50,"q":"2","v":0.0466},{"x":-25,"q":"2","v":0.0484},{"x":0,"q":"2","v":0.0502},{"x":25,"q":"2","v":0.0521},{"x":50,"q":"2","v":0.0534},{"x":75,"q":"2","v":0.0532},{"x":100,"q":"2","v":0.0502},{"x":125,"q":"2","v":0.0466},{"x":150,"q":"2","v":0.0443},{"x":175,"q":"2","v":0.0434},{"x":200,"q":"2","v":0.0439},{"x":225,"q":"2","v":0.0443},{"x":250,"q":"2","v":0.0446},{"x":275,"q":"2","v":0.0448},{"x":300,"q":"2","v":0.0459},{"x":350,"q":"2","v":0.0466},{"x":400,"q":"2","v":0.0461},{"x":450,"q":"2","v":0.0464},{"x":500,"q":"2","v":0.0457},{"x":550,"q":"2","v":0.0450},{"x":600,"q":"2","v":0.0448},{"x":650,"q":"2","v":0.0457},{"x":700,"q":"2","v":0.0455},{"x":750,"q":"2","v":0.0448},{"x":800,"q":"2","v":0.0448},{"x":850,"q":"2","v":0.0446},{"x":900,"q":"2","v":0.0459},{"x":950,"q":"2","v":0.0461},{"x":985,"q":"2","v":0.0465},
{"x":-1000,"q":"3","v":0.0644},{"x":-950,"q":"3","v":0.0641},{"x":-900,"q":"3","v":0.0639},{"x":-850,"q":"3","v":0.0625},{"x":-800,"q":"3","v":0.0616},{"x":-750,"q":"3","v":0.0598},{"x":-700,"q":"3","v":0.0593},{"x":-650,"q":"3","v":0.0603},{"x":-600,"q":"3","v":0.0593},{"x":-550,"q":"3","v":0.0568},{"x":-500,"q":"3","v":0.0566},{"x":-450,"q":"3","v":0.0564},{"x":-400,"q":"3","v":0.0534},{"x":-350,"q":"3","v":0.0498},{"x":-300,"q":"3","v":0.0493},{"x":-250,"q":"3","v":0.0500},{"x":-200,"q":"3","v":0.0493},{"x":-175,"q":"3","v":0.0484},{"x":-150,"q":"3","v":0.0475},{"x":-125,"q":"3","v":0.0462},{"x":-100,"q":"3","v":0.0443},{"x":-75,"q":"3","v":0.0430},{"x":-50,"q":"3","v":0.0434},{"x":-25,"q":"3","v":0.0443},{"x":0,"q":"3","v":0.0471},{"x":25,"q":"3","v":0.0475},{"x":50,"q":"3","v":0.0480},{"x":75,"q":"3","v":0.0482},{"x":100,"q":"3","v":0.0462},{"x":125,"q":"3","v":0.0434},{"x":150,"q":"3","v":0.0421},{"x":175,"q":"3","v":0.0411},{"x":200,"q":"3","v":0.0409},{"x":225,"q":"3","v":0.0405},{"x":250,"q":"3","v":0.0405},{"x":275,"q":"3","v":0.0407},{"x":300,"q":"3","v":0.0409},{"x":350,"q":"3","v":0.0421},{"x":400,"q":"3","v":0.0427},{"x":450,"q":"3","v":0.0425},{"x":500,"q":"3","v":0.0416},{"x":550,"q":"3","v":0.0407},{"x":600,"q":"3","v":0.0405},{"x":650,"q":"3","v":0.0405},{"x":700,"q":"3","v":0.0400},{"x":750,"q":"3","v":0.0407},{"x":800,"q":"3","v":0.0414},{"x":850,"q":"3","v":0.0421},{"x":900,"q":"3","v":0.0416},{"x":950,"q":"3","v":0.0418},{"x":985,"q":"3","v":0.0414},
{"x":-1000,"q":"4","v":0.0571},{"x":-950,"q":"4","v":0.0580},{"x":-900,"q":"4","v":0.0578},{"x":-850,"q":"4","v":0.0568},{"x":-800,"q":"4","v":0.0566},{"x":-750,"q":"4","v":0.0580},{"x":-700,"q":"4","v":0.0584},{"x":-650,"q":"4","v":0.0575},{"x":-600,"q":"4","v":0.0557},{"x":-550,"q":"4","v":0.0541},{"x":-500,"q":"4","v":0.0534},{"x":-450,"q":"4","v":0.0530},{"x":-400,"q":"4","v":0.0523},{"x":-350,"q":"4","v":0.0514},{"x":-300,"q":"4","v":0.0498},{"x":-250,"q":"4","v":0.0489},{"x":-200,"q":"4","v":0.0482},{"x":-175,"q":"4","v":0.0498},{"x":-150,"q":"4","v":0.0507},{"x":-125,"q":"4","v":0.0484},{"x":-100,"q":"4","v":0.0466},{"x":-75,"q":"4","v":0.0457},{"x":-50,"q":"4","v":0.0450},{"x":-25,"q":"4","v":0.0457},{"x":0,"q":"4","v":0.0484},{"x":25,"q":"4","v":0.0498},{"x":50,"q":"4","v":0.0509},{"x":75,"q":"4","v":0.0512},{"x":100,"q":"4","v":0.0498},{"x":125,"q":"4","v":0.0466},{"x":150,"q":"4","v":0.0443},{"x":175,"q":"4","v":0.0430},{"x":200,"q":"4","v":0.0425},{"x":225,"q":"4","v":0.0430},{"x":250,"q":"4","v":0.0434},{"x":275,"q":"4","v":0.0441},{"x":300,"q":"4","v":0.0446},{"x":350,"q":"4","v":0.0448},{"x":400,"q":"4","v":0.0448},{"x":450,"q":"4","v":0.0448},{"x":500,"q":"4","v":0.0450},{"x":550,"q":"4","v":0.0448},{"x":600,"q":"4","v":0.0446},{"x":650,"q":"4","v":0.0439},{"x":700,"q":"4","v":0.0439},{"x":750,"q":"4","v":0.0443},{"x":800,"q":"4","v":0.0443},{"x":850,"q":"4","v":0.0443},{"x":900,"q":"4","v":0.0441},{"x":950,"q":"4","v":0.0439},{"x":985,"q":"4","v":0.0441}
]
},
"columns":2,
"spacing":{"row":147,"column":163},
"bounds":"flush",
"resolve":{"scale":{"color":"independent","fill":"independent"},"legend":{"color":"independent","fill":"independent"}},
"concat":[
{"width":504,"height":290,
"layer":[
{"data":{"values":[{}]},"mark":{"type":"rule","color":"#888","strokeDash":[2,2],"strokeWidth":1.5},"encoding":{"x":{"datum":0,"type":"quantitative"}}},
{"data":{"name":"G"},"mark":{"type":"point","clip":true},"encoding":{"x":{"field":"x","type":"quantitative"},"y":{"field":"v","type":"quantitative"},"fill":{"field":"b","type":"nominal","scale":{"domain":["a","b","c","d"],"range":["#cfcfcf","#cfcfcf","#cfcfcf","#cfcfcf"]},"legend":{"title":null,"labelExpr":"''","orient":"none","legendX":4,"legendY":208,"zindex":1,"symbolType":"M-1.4,-1.125H1.4V1.125H-1.4Z","symbolStrokeWidth":0,"symbolOpacity":1}}}},
{"data":{"name":"A"},"mark":{"type":"line","strokeWidth":2.5},"encoding":{
"x":{"field":"x","type":"quantitative","scale":{"domain":[-1000,1000],"nice":false},"axis":{"values":[-1000,-800,-600,-400,-200,0,200,400,600,800,1000],"format":",.0f","title":"Position relative to intron–exon boundary"}},
"y":{"field":"v","type":"quantitative","scale":{"domain":[0.075,0.105],"nice":false,"zero":false},"axis":{"values":[0.075,0.081,0.087,0.093,0.099,0.105],"format":".3f","title":"RPM"}},
"color":{"field":"q","type":"nominal","scale":{"domain":["1","2","3","4"],"range":["#3853a4","#2fae4a","#f5a623","#ed1c24"]},"legend":{"title":"Quantiles","orient":"none","legendX":4,"legendY":188,"zindex":2,"labelExpr":"datum.label == '1' ? '1st Low inclusion 20%' : datum.label == '2' ? '2nd' : datum.label == '3' ? '3rd' : '4th High inclusion 80%'"}}}},
{"data":{"values":[{"x":-214,"v":0.0947,"t":"Int."},{"x":67,"v":0.0947,"t":"Ex."},{"x":349,"v":0.0947,"t":"Int."}]},"mark":{"type":"text","fontSize":24,"color":"#111"},"encoding":{"x":{"field":"x","type":"quantitative"},"y":{"field":"v","type":"quantitative"},"text":{"field":"t"}}},
{"data":{"values":[{"x":2,"v":0.10676,"t":"H2A.B.3 Testes alternative exons"}]},"mark":{"type":"text","fontSize":29,"baseline":"alphabetic","color":"#000"},"encoding":{"x":{"field":"x","type":"quantitative"},"y":{"field":"v","type":"quantitative"},"text":{"field":"t"}}},
{"data":{"values":[{"x":-1321,"v":0.1076,"t":"A"}]},"mark":{"type":"text","fontSize":40,"align":"left","baseline":"alphabetic","color":"#000"},"encoding":{"x":{"field":"x","type":"quantitative"},"y":{"field":"v","type":"quantitative"},"text":{"field":"t"}}}
]},
{"width":504,"height":290,
"layer":[
{"data":{"values":[{}]},"mark":{"type":"rule","color":"#888","strokeDash":[2,2],"strokeWidth":1.5},"encoding":{"x":{"datum":0,"type":"quantitative"}}},
{"data":{"name":"G"},"mark":{"type":"point","clip":true},"encoding":{"x":{"field":"x","type":"quantitative"},"y":{"field":"v","type":"quantitative"},"fill":{"field":"b","type":"nominal","scale":{"domain":["a","b","c","d"],"range":["#cfcfcf","#cfcfcf","#cfcfcf","#cfcfcf"]},"legend":{"title":null,"labelExpr":"''","orient":"none","legendX":5,"legendY":208,"zindex":1,"symbolType":"M-1.4,-1.125H1.4V1.125H-1.4Z","symbolStrokeWidth":0,"symbolOpacity":1}}}},
{"data":{"name":"B"},"mark":{"type":"line","strokeWidth":2.5},"encoding":{
"x":{"field":"x","type":"quantitative","scale":{"domain":[-1000,1000],"nice":false},"axis":{"values":[-1000,-800,-600,-400,-200,0,200,400,600,800,1000],"format":",.0f","title":"Position relative to intron–exon boundary"}},
"y":{"field":"v","type":"quantitative","scale":{"domain":[0.067,0.092],"nice":false,"zero":false},"axis":{"values":[0.067,0.072,0.077,0.082,0.087,0.092],"format":".3f","title":"RPM"}},
"color":{"field":"q","type":"nominal","scale":{"domain":["1","2","3","4"],"range":["#3853a4","#2fae4a","#f5a623","#ed1c24"]},"legend":{"title":"Quantiles","orient":"none","legendX":5,"legendY":188,"zindex":2,"labelExpr":"datum.label == '1' ? '1st Low inclusion 20%' : datum.label == '2' ? '2nd' : datum.label == '3' ? '3rd' : '4th High inclusion 80%'"}}}},
{"data":{"values":[{"x":-198,"v":0.0832,"t":"Int."},{"x":91,"v":0.0832,"t":"Ex."},{"x":365,"v":0.0832,"t":"Int."}]},"mark":{"type":"text","fontSize":24,"color":"#111"},"encoding":{"x":{"field":"x","type":"quantitative"},"y":{"field":"v","type":"quantitative"},"text":{"field":"t"}}},
{"data":{"values":[{"x":50,"v":0.09347,"t":"H2A.B.3 Hippocampus alternative exons"}]},"mark":{"type":"text","fontSize":29,"baseline":"alphabetic","color":"#000"},"encoding":{"x":{"field":"x","type":"quantitative"},"y":{"field":"v","type":"quantitative"},"text":{"field":"t"}}},
{"data":{"values":[{"x":-1317,"v":0.09416,"t":"B"}]},"mark":{"type":"text","fontSize":40,"align":"left","baseline":"alphabetic","color":"#000"},"encoding":{"x":{"field":"x","type":"quantitative"},"y":{"field":"v","type":"quantitative"},"text":{"field":"t"}}}
]},
{"width":504,"height":290,
"layer":[
{"data":{"values":[{}]},"mark":{"type":"rule","color":"#888","strokeDash":[2,2],"strokeWidth":1.5},"encoding":{"x":{"datum":0,"type":"quantitative"}}},
{"data":{"name":"G"},"mark":{"type":"point","clip":true},"encoding":{"x":{"field":"x","type":"quantitative"},"y":{"field":"v","type":"quantitative"},"fill":{"field":"b","type":"nominal","scale":{"domain":["a","b","c","d"],"range":["#cfcfcf","#cfcfcf","#cfcfcf","#cfcfcf"]},"legend":{"title":null,"labelExpr":"''","orient":"none","legendX":4,"legendY":133,"zindex":1,"symbolType":"M-1.4,-1.125H1.4V1.125H-1.4Z","symbolStrokeWidth":0,"symbolOpacity":1}}}},
{"data":{"name":"C"},"mark":{"type":"line","strokeWidth":2.5},"encoding":{
"x":{"field":"x","type":"quantitative","scale":{"domain":[-1000,1000],"nice":false},"axis":{"values":[-1000,-800,-600,-400,-200,0,200,400,600,800,1000],"format":",.0f","title":"Position relative to intron–exon boundary"}},
"y":{"field":"v","type":"quantitative","scale":{"domain":[0.0748,0.114],"nice":false,"zero":false},"axis":{"values":[0.0748,0.08264,0.09048,0.09832,0.10616,0.114],"format":".3f","title":"RPM"}},
"color":{"field":"q","type":"nominal","scale":{"domain":["1","2","3","4"],"range":["#3853a4","#2fae4a","#f5a623","#ed1c24"]},"legend":{"title":"Quantiles","orient":"none","legendX":4,"legendY":113,"zindex":2,"labelExpr":"datum.label == '1' ? '1st Low inclusion 20%' : datum.label == '2' ? '2nd' : datum.label == '3' ? '3rd' : '4th High inclusion 80%'"}}}},
{"data":{"values":[{"x":-214,"v":0.1016,"t":"Int."},{"x":71,"v":0.1016,"t":"Ex."},{"x":349,"v":0.1016,"t":"Int."}]},"mark":{"type":"text","fontSize":24,"color":"#111"},"encoding":{"x":{"field":"x","type":"quantitative"},"y":{"field":"v","type":"quantitative"},"text":{"field":"t"}}},
{"data":{"values":[{"x":-65,"v":0.11589,"t":"Input Testes alternative exons"}]},"mark":{"type":"text","fontSize":29,"baseline":"alphabetic","color":"#000"},"encoding":{"x":{"field":"x","type":"quantitative"},"y":{"field":"v","type":"quantitative"},"text":{"field":"t"}}},
{"data":{"values":[{"x":-1317,"v":0.1167,"t":"C"}]},"mark":{"type":"text","fontSize":40,"align":"left","baseline":"alphabetic","color":"#000"},"encoding":{"x":{"field":"x","type":"quantitative"},"y":{"field":"v","type":"quantitative"},"text":{"field":"t"}}}
]},
{"width":504,"height":290,
"layer":[
{"data":{"values":[{}]},"mark":{"type":"rule","color":"#888","strokeDash":[2,2],"strokeWidth":1.5},"encoding":{"x":{"datum":0,"type":"quantitative"}}},
{"data":{"name":"G"},"mark":{"type":"point","clip":true},"encoding":{"x":{"field":"x","type":"quantitative"},"y":{"field":"v","type":"quantitative"},"fill":{"field":"b","type":"nominal","scale":{"domain":["a","b","c","d"],"range":["#cfcfcf","#cfcfcf","#cfcfcf","#cfcfcf"]},"legend":{"title":null,"labelExpr":"''","orient":"none","legendX":5,"legendY":194,"zindex":1,"symbolType":"M-1.4,-1.125H1.4V1.125H-1.4Z","symbolStrokeWidth":0,"symbolOpacity":1}}}},
{"data":{"name":"D"},"mark":{"type":"line","strokeWidth":2.5},"encoding":{
"x":{"field":"x","type":"quantitative","scale":{"domain":[-1000,1000],"nice":false},"axis":{"values":[-1000,-800,-600,-400,-200,0,200,400,600,800,1000],"format":",.0f","title":"Position relative to intron–exon boundary"}},
"y":{"field":"v","type":"quantitative","scale":{"domain":[0.059,0.074],"nice":false,"zero":false},"axis":{"values":[0.059,0.062,0.065,0.068,0.071,0.074],"format":".3f","title":"RPM"}},
"color":{"field":"q","type":"nominal","scale":{"domain":["1","2","3","4"],"range":["#3853a4","#2fae4a","#f5a623","#ed1c24"]},"legend":{"title":"Quantiles","orient":"none","legendX":5,"legendY":174,"zindex":2,"labelExpr":"datum.label == '1' ? '1st Low inclusion 20%' : datum.label == '2' ? '2nd' : datum.label == '3' ? '3rd' : '4th High inclusion 80%'"}}}},
{"data":{"values":[{"x":-194,"v":0.0696,"t":"Int."},{"x":95,"v":0.0696,"t":"Ex."},{"x":365,"v":0.0696,"t":"Int."}]},"mark":{"type":"text","fontSize":24,"color":"#111"},"encoding":{"x":{"field":"x","type":"quantitative"},"y":{"field":"v","type":"quantitative"},"text":{"field":"t"}}},
{"data":{"values":[{"x":63,"v":0.07472,"t":"Input Hippocampus alternative exons"}]},"mark":{"type":"text","fontSize":29,"baseline":"alphabetic","color":"#000"},"encoding":{"x":{"field":"x","type":"quantitative"},"y":{"field":"v","type":"quantitative"},"text":{"field":"t"}}},
{"data":{"values":[{"x":-1317,"v":0.07503,"t":"D"}]},"mark":{"type":"text","fontSize":40,"align":"left","baseline":"alphabetic","color":"#000"},"encoding":{"x":{"field":"x","type":"quantitative"},"y":{"field":"v","type":"quantitative"},"text":{"field":"t"}}}
]},
{"width":504,"height":290,
"layer":[
{"data":{"values":[{}]},"mark":{"type":"rule","color":"#888","strokeDash":[2,2],"strokeWidth":1.5},"encoding":{"x":{"datum":0,"type":"quantitative"}}},
{"data":{"name":"G"},"mark":{"type":"point","clip":true},"encoding":{"x":{"field":"x","type":"quantitative"},"y":{"field":"v","type":"quantitative"},"fill":{"field":"b","type":"nominal","scale":{"domain":["a","b","c","d"],"range":["#cfcfcf","#cfcfcf","#cfcfcf","#cfcfcf"]},"legend":{"title":null,"labelExpr":"''","orient":"none","legendX":294,"legendY":12,"zindex":1,"symbolType":"M-1.4,-1.125H1.4V1.125H-1.4Z","symbolStrokeWidth":0,"symbolOpacity":1}}}},
{"data":{"name":"E"},"mark":{"type":"line","strokeWidth":2.5},"encoding":{
"x":{"field":"x","type":"quantitative","scale":{"domain":[-1000,1000],"nice":false},"axis":{"values":[-1000,-800,-600,-400,-200,0,200,400,600,800,1000],"format":",.0f","title":"Position relative to intron–exon boundary"}},
"y":{"field":"v","type":"quantitative","scale":{"domain":[0.061,0.081],"nice":false,"zero":false},"axis":{"values":[0.061,0.065,0.069,0.073,0.077,0.081],"format":".3f","title":"RPM"}},
"color":{"field":"q","type":"nominal","scale":{"domain":["1","2","3","4"],"range":["#3853a4","#2fae4a","#f5a623","#ed1c24"]},"legend":{"title":"Quantiles","orient":"none","legendX":294,"legendY":-8,"zindex":2,"labelExpr":"datum.label == '1' ? '1st Low inclusion 20%' : datum.label == '2' ? '2nd' : datum.label == '3' ? '3rd' : '4th High inclusion 80%'"}}}},
{"data":{"values":[{"x":-218,"v":0.0749,"t":"Int."},{"x":67,"v":0.0749,"t":"Ex."},{"x":345,"v":0.0749,"t":"Int."}]},"mark":{"type":"text","fontSize":24,"color":"#111"},"encoding":{"x":{"field":"x","type":"quantitative"},"y":{"field":"v","type":"quantitative"},"text":{"field":"t"}}},
{"data":{"values":[{"x":-28,"v":0.08183,"t":"H2A.Z Testes alternative exons"}]},"mark":{"type":"text","fontSize":29,"baseline":"alphabetic","color":"#000"},"encoding":{"x":{"field":"x","type":"quantitative"},"y":{"field":"v","type":"quantitative"},"text":{"field":"t"}}},
{"data":{"values":[{"x":-1329,"v":0.08266,"t":"E"}]},"mark":{"type":"text","fontSize":40,"align":"left","baseline":"alphabetic","color":"#000"},"encoding":{"x":{"field":"x","type":"quantitative"},"y":{"field":"v","type":"quantitative"},"text":{"field":"t"}}}
]},
{"width":504,"height":290,
"layer":[
{"data":{"values":[{}]},"mark":{"type":"rule","color":"#888","strokeDash":[2,2],"strokeWidth":1.5},"encoding":{"x":{"datum":0,"type":"quantitative"}}},
{"data":{"name":"G"},"mark":{"type":"point","clip":true},"encoding":{"x":{"field":"x","type":"quantitative"},"y":{"field":"v","type":"quantitative"},"fill":{"field":"b","type":"nominal","scale":{"domain":["a","b","c","d"],"range":["#cfcfcf","#cfcfcf","#cfcfcf","#cfcfcf"]},"legend":{"title":null,"labelExpr":"''","orient":"none","legendX":295,"legendY":121,"zindex":1,"symbolType":"M-1.4,-1.125H1.4V1.125H-1.4Z","symbolStrokeWidth":0,"symbolOpacity":1}}}},
{"data":{"name":"F"},"mark":{"type":"line","strokeWidth":2.5},"encoding":{
"x":{"field":"x","type":"quantitative","scale":{"domain":[-1000,1000],"nice":false},"axis":{"values":[-1000,-800,-600,-400,-200,0,200,400,600,800,1000],"format":",.0f","title":"Position relative to intron–exon boundary"}},
"y":{"field":"v","type":"quantitative","scale":{"domain":[0.038,0.078],"nice":false,"zero":false},"axis":{"values":[0.038,0.046,0.054,0.062,0.070,0.078],"format":".3f","title":"RPM"}},
"color":{"field":"q","type":"nominal","scale":{"domain":["1","2","3","4"],"range":["#3853a4","#2fae4a","#f5a623","#ed1c24"]},"legend":{"title":"Quantiles","orient":"none","legendX":295,"legendY":101,"zindex":2,"labelExpr":"datum.label == '1' ? '1st Low inclusion 20%' : datum.label == '2' ? '2nd' : datum.label == '3' ? '3rd' : '4th High inclusion 80%'"}}}},
{"data":{"values":[{"x":-200,"v":0.0672,"t":"Int."},{"x":91,"v":0.0672,"t":"Ex."},{"x":364,"v":0.0672,"t":"Int."}]},"mark":{"type":"text","fontSize":24,"color":"#111"},"encoding":{"x":{"field":"x","type":"quantitative"},"y":{"field":"v","type":"quantitative"},"text":{"field":"t"}}},
{"data":{"values":[{"x":30,"v":0.07966,"t":"H2A.Z Hippocampus alternative exons"}]},"mark":{"type":"text","fontSize":29,"baseline":"alphabetic","color":"#000"},"encoding":{"x":{"field":"x","type":"quantitative"},"y":{"field":"v","type":"quantitative"},"text":{"field":"t"}}},
{"data":{"values":[{"x":-1317,"v":0.0813,"t":"F"}]},"mark":{"type":"text","fontSize":40,"align":"left","baseline":"alphabetic","color":"#000"},"encoding":{"x":{"field":"x","type":"quantitative"},"y":{"field":"v","type":"quantitative"},"text":{"field":"t"}}}
]}
]
}
